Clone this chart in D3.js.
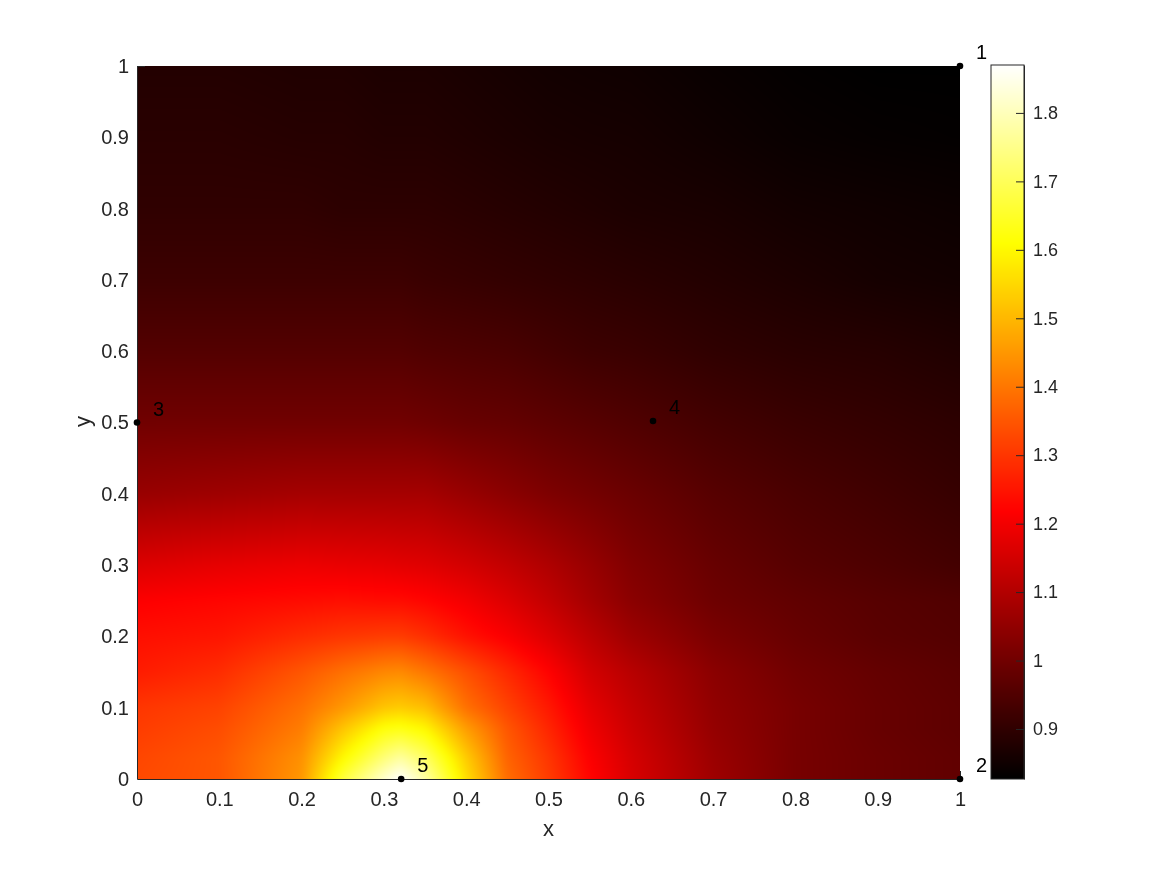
<!DOCTYPE html>
<html>
<head>
<meta charset="utf-8">
<script src="https://cdn.jsdelivr.net/npm/d3@7"></script>
<style>
html, body { margin: 0; padding: 0; background: #fff; }
#chart { position: relative; width: 1167px; height: 875px; overflow: hidden; }
canvas, svg { position: absolute; }
svg { left: 0; top: 0; }
text { font-family: "Liberation Sans", Arial, sans-serif; }
</style>
</head>
<body>
<div id="chart"></div>
<script>
// grid positions the field was read at
var gridX = [0, 0.1, 0.2, 0.25, 0.3, 0.32, 0.35, 0.4, 0.45, 0.5, 0.55, 0.6, 0.7, 0.8, 0.9, 1];
var gridY = [0, 0.03, 0.07, 0.1, 0.15, 0.2, 0.25, 0.3, 0.4, 0.5, 0.6, 0.7, 0.8, 0.9, 1];

// one row per gridY, one value per gridX
var field = [
    [1.33, 1.35, 1.45, 1.67, 1.82, 1.87, 1.78, 1.56, 1.385, 1.31, 1.225, 1.16, 1.07, 1.01, 0.99, 0.975],
    [1.325, 1.35, 1.44, 1.60, 1.73, 1.77, 1.71, 1.53, 1.37, 1.30, 1.215, 1.155, 1.065, 1.01, 0.99, 0.975],
    [1.31, 1.335, 1.41, 1.52, 1.62, 1.63, 1.60, 1.46, 1.35, 1.275, 1.195, 1.14, 1.055, 1.01, 0.985, 0.97],
    [1.30, 1.32, 1.39, 1.45, 1.52, 1.53, 1.51, 1.39, 1.32, 1.255, 1.18, 1.13, 1.05, 1.01, 0.985, 0.97],
    [1.26, 1.285, 1.35, 1.39, 1.425, 1.43, 1.40, 1.34, 1.28, 1.22, 1.15, 1.11, 1.04, 1.00, 0.98, 0.965],
    [1.24, 1.25, 1.285, 1.30, 1.31, 1.31, 1.29, 1.245, 1.21, 1.165, 1.115, 1.07, 1.015, 0.985, 0.965, 0.955],
    [1.215, 1.225, 1.235, 1.24, 1.235, 1.235, 1.225, 1.20, 1.165, 1.125, 1.08, 1.04, 0.995, 0.975, 0.96, 0.95],
    [1.165, 1.18, 1.19, 1.185, 1.18, 1.175, 1.17, 1.15, 1.125, 1.095, 1.06, 1.025, 0.985, 0.96, 0.945, 0.93],
    [1.06, 1.07, 1.08, 1.08, 1.08, 1.08, 1.08, 1.06, 1.04, 1.02, 1.005, 0.99, 0.96, 0.94, 0.925, 0.91],
    [1.00, 1.00, 1.00, 1.00, 1.00, 1.00, 0.995, 0.985, 0.98, 0.97, 0.96, 0.95, 0.93, 0.915, 0.905, 0.895],
    [0.955, 0.955, 0.955, 0.955, 0.955, 0.955, 0.95, 0.945, 0.94, 0.93, 0.92, 0.915, 0.90, 0.89, 0.885, 0.875],
    [0.92, 0.92, 0.92, 0.92, 0.92, 0.92, 0.915, 0.91, 0.905, 0.90, 0.895, 0.89, 0.88, 0.87, 0.86, 0.855],
    [0.90, 0.90, 0.90, 0.895, 0.895, 0.895, 0.895, 0.89, 0.885, 0.88, 0.875, 0.87, 0.865, 0.855, 0.85, 0.845],
    [0.89, 0.89, 0.885, 0.885, 0.88, 0.88, 0.88, 0.875, 0.87, 0.865, 0.862, 0.86, 0.85, 0.84, 0.835, 0.832],
    [0.88, 0.88, 0.875, 0.875, 0.87, 0.87, 0.87, 0.865, 0.86, 0.855, 0.852, 0.85, 0.84, 0.832, 0.827, 0.827]
];

var points = [
    { label: '1', x: 1, y: 1 },
    { label: '2', x: 1, y: 0 },
    { label: '3', x: 0, y: 0.5 },
    { label: '4', x: 0.627, y: 0.502 },
    { label: '5', x: 0.321, y: 0 }
];

var tickValues = d3.range(0, 11).map(function(d) { return d / 10; });
var barTicks = [0.9, 1, 1.1, 1.2, 1.3, 1.4, 1.5, 1.6, 1.7, 1.8];
var barMin = 0.827, barMax = 1.87;

var plot = { left: 137, right: 960, top: 66, bottom: 779 },
    bar = { left: 991, right: 1024, top: 65, bottom: 779 },
    tickColor = '#262626',
    pad = 16;

var xScale = d3.scaleLinear().domain([0, 1]).range([plot.left, plot.right]);
var yScale = d3.scaleLinear().domain([0, 1]).range([plot.bottom, plot.top]);
var barScale = d3.scaleLinear().domain([barMin, barMax]).range([bar.bottom, bar.top]);

// matlab "hot"
var colors = d3.scaleLinear()
    .domain([0, 0.375, 0.75, 1].map(function(t) { return barMin + t * (barMax - barMin); }))
    .range(['#000000', '#ff0000', '#ffff00', '#ffffff'])
    .clamp(true);

var container = d3.select('#chart');

function cellIndex(grid, v) {
    var i = d3.bisectRight(grid, v) - 1;
    return Math.max(0, Math.min(grid.length - 2, i));
}

function valueAt(x, y) {
    x = Math.max(0, Math.min(1, x));
    y = Math.max(0, Math.min(1, y));
    var i = cellIndex(gridX, x),
        j = cellIndex(gridY, y),
        tx = (x - gridX[i]) / (gridX[i + 1] - gridX[i]),
        ty = (y - gridY[j]) / (gridY[j + 1] - gridY[j]);
    var low = field[j][i] + (field[j][i + 1] - field[j][i]) * tx,
        high = field[j + 1][i] + (field[j + 1][i + 1] - field[j + 1][i]) * tx;
    return low + (high - low) * ty;
}

// shaded surface, like shading interp. drawn with a margin and softened
// so the read grid does not show as creases
var w = plot.right - plot.left,
    h = plot.bottom - plot.top,
    rough = document.createElement('canvas');

rough.width = w + pad * 2;
rough.height = h + pad * 2;
var roughCtx = rough.getContext('2d');

for (var py = -pad; py < h + pad; py++) {
    for (var px = -pad; px < w + pad; px++) {
        roughCtx.fillStyle = colors(valueAt(xScale.invert(plot.left + px + 0.5), yScale.invert(plot.top + py + 0.5)));
        roughCtx.fillRect(px + pad, py + pad, 1, 1);
    }
}

var canvas = container.append('canvas')
        .attr('width', w)
        .attr('height', h)
        .style('left', plot.left + 'px')
        .style('top', plot.top + 'px'),
    ctx = canvas.node().getContext('2d');

ctx.filter = 'blur(3px)';
ctx.drawImage(rough, -pad, -pad);

// colorbar
var barCanvas = container.append('canvas')
        .attr('width', bar.right - bar.left)
        .attr('height', bar.bottom - bar.top)
        .style('left', bar.left + 'px')
        .style('top', bar.top + 'px'),
    barCtx = barCanvas.node().getContext('2d');

for (var by = 0; by < bar.bottom - bar.top; by++) {
    barCtx.fillStyle = colors(barScale.invert(bar.top + by + 0.5));
    barCtx.fillRect(0, by, bar.right - bar.left, 1);
}

var svg = container.append('svg')
    .attr('width', 1167)
    .attr('height', 875);

var xAxis = d3.axisBottom(xScale)
    .tickValues(tickValues)
    .tickFormat(d3.format('~g'))
    .tickSizeInner(-8)
    .tickSizeOuter(0)
    .tickPadding(13);

var yAxis = d3.axisLeft(yScale)
    .tickValues(tickValues)
    .tickFormat(d3.format('~g'))
    .tickSizeInner(-8)
    .tickSizeOuter(0)
    .tickPadding(8);

var barAxis = d3.axisRight(barScale)
    .tickValues(barTicks)
    .tickFormat(d3.format('~g'))
    .tickSizeInner(-8)
    .tickSizeOuter(0)
    .tickPadding(9);

function styleAxis(g, size) {
    g.selectAll('path, line').attr('stroke', tickColor);
    g.selectAll('text').attr('fill', tickColor).style('font-size', size + 'px');
    g.attr('font-family', null);
}

// the surface hides every plot tick except the ones on its far edge
function hideCoveredTicks(g) {
    g.selectAll('.tick line').filter(function(d) { return d < 1; }).remove();
}

svg.append('g')
    .attr('transform', 'translate(0,' + plot.bottom + ')')
    .call(xAxis)
    .call(styleAxis, 20)
    .call(hideCoveredTicks);

svg.append('g')
    .attr('transform', 'translate(' + plot.left + ',0)')
    .call(yAxis)
    .call(styleAxis, 20)
    .call(hideCoveredTicks);

svg.append('g')
    .attr('transform', 'translate(' + bar.right + ',0)')
    .call(barAxis)
    .call(styleAxis, 18);

svg.append('rect')
    .attr('x', bar.left)
    .attr('y', bar.top)
    .attr('width', bar.right - bar.left)
    .attr('height', bar.bottom - bar.top)
    .attr('fill', 'none')
    .attr('stroke', tickColor);

svg.append('text')
    .attr('x', (plot.left + plot.right) / 2)
    .attr('y', 836)
    .attr('text-anchor', 'middle')
    .attr('fill', tickColor)
    .style('font-size', '22px')
    .text('x');

svg.append('text')
    .attr('transform', 'translate(90,' + (yScale(0.5) - 1) + ') rotate(-90)')
    .attr('text-anchor', 'middle')
    .attr('fill', tickColor)
    .style('font-size', '22px')
    .text('y');

svg.selectAll('circle').data(points)
    .enter().append('circle')
        .attr('cx', function(d) { return xScale(d.x); })
        .attr('cy', function(d) { return yScale(d.y); })
        .attr('r', 3.3)
        .attr('fill', '#000');

svg.selectAll('.point-label').data(points)
    .enter().append('text')
        .attr('class', 'point-label')
        .attr('x', function(d) { return xScale(d.x) + 16; })
        .attr('y', function(d) { return yScale(d.y) - 7; })
        .attr('fill', '#000')
        .style('font-size', '20px')
        .text(function(d) { return d.label; });
</script>
</body>
</html>
